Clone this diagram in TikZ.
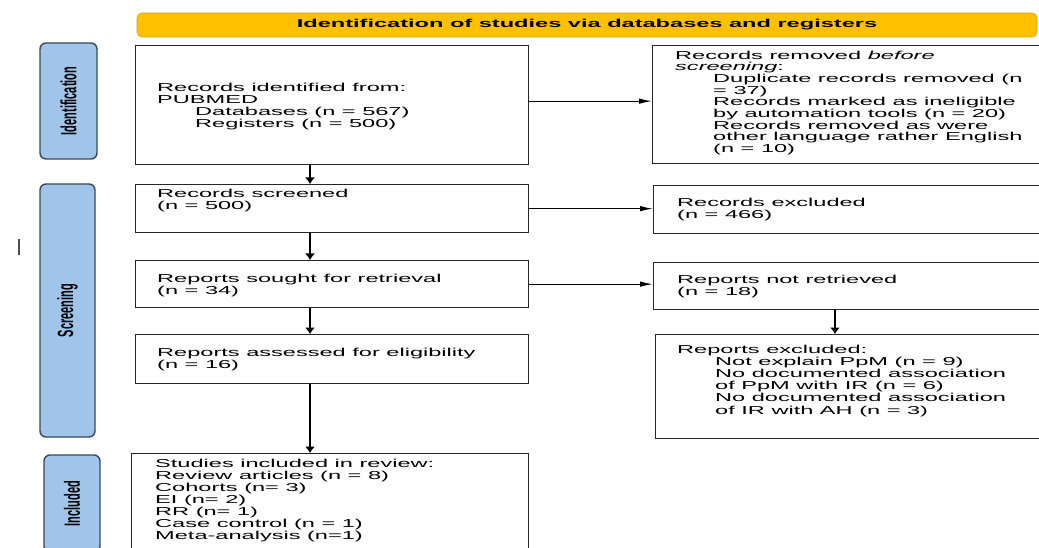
\documentclass[tikz,border=0pt]{standalone}
\usepackage{fontspec}
\setmainfont{Liberation Sans}[FakeStretch=2.05]
\newfontfamily\sidefont{Liberation Sans}
\usetikzlibrary{arrows.meta}
\definecolor{gold}{RGB}{255,192,0}
\definecolor{sideblue}{RGB}{160,197,232}
\definecolor{sideline}{RGB}{55,72,95}
\begin{document}
\begin{tikzpicture}[x=1pt,y=-1pt,
  box/.style={draw=black!85, line width=1.3pt, anchor=north west, inner sep=0pt},
  txt/.style={anchor=north west, inner sep=0pt, align=left, font=\fontsize{11.5}{12}\selectfont},
  side/.style={draw=sideline, fill=sideblue, line width=1.4pt, rounded corners=6pt, rotate=90, inner sep=0pt, font=\sidefont\bfseries\fontsize{11}{12}\selectfont},
  harr/.style={-{Latex[length=13pt,width=5.5pt]}, line width=1.2pt},
  varr/.style={-{Latex[length=6.5pt,width=10pt]}, line width=1.2pt}]
\path[use as bounding box, fill=white] (0,0) rectangle (1039,548);

% banner
\node[fill=gold, draw=gold!85!black, line width=0.6pt, rounded corners=5pt, minimum width=900pt, minimum height=24pt, inner sep=0pt, font=\bfseries\fontsize{11.5}{12}\selectfont] (ban) at (587,25) {Identification of studies via databases and registers};

% side labels
\node[side, minimum width=116pt, minimum height=57pt] (s1) at (68.5,101) {\scalebox{1}[2]{Identification}};
\node[side, minimum width=253pt, minimum height=55pt] (s2) at (67.5,310.5) {\scalebox{1}[2]{Screening}};
\node[side, minimum width=97pt, minimum height=56pt] (s3) at (72,503.5) {\scalebox{1}[2]{Included}};

% stray mark
\draw[line width=2.5pt, black!70] (19,239) -- (19,255);

% left boxes
\node[box, minimum width=393pt, minimum height=119pt] (b1) at (135,45) {};
\node[box, minimum width=393pt, minimum height=48pt] (b2) at (135,184) {};
\node[box, minimum width=393pt, minimum height=47pt] (b3) at (135,260) {};
\node[box, minimum width=393pt, minimum height=49pt] (b4) at (135,334) {};
\node[box, minimum width=397pt, minimum height=100pt] (b5) at (131,453) {};

% right boxes
\node[box, minimum width=400pt, minimum height=118pt] (r1) at (652,45) {};
\node[box, minimum width=400pt, minimum height=48pt] (r2) at (653,185) {};
\node[box, minimum width=400pt, minimum height=47pt] (r3) at (653,262) {};
\node[box, minimum width=400pt, minimum height=104pt] (r4) at (655,334) {};

% texts
\node[txt] (t1) at (157,82.5) {Records identified from:\\PUBMED\\\hspace*{38pt}Databases (n = 567)\\\hspace*{38pt}Registers (n = 500)};
\node[txt] (t2) at (157,188.5) {Records screened\\(n = 500)};
\node[txt] (t3) at (157,273.5) {Reports sought for retrieval\\(n = 34)};
\node[txt] (t4) at (157,347.5) {Reports assessed for eligibility\\(n = 16)};
\node[txt] (t5) at (155,458.5) {Studies included in review:\\Review articles (n = 8)\\Cohorts (n= 3)\\EI (n= 2)\\RR (n= 1)\\Case control (n = 1)\\Meta-analysis (n=1)};

\node[txt, font=\fontsize{11.5}{11.7}\selectfont] (u1) at (675,50.5) {Records removed \textit{before}\\\textit{screening}:\\\hspace*{38pt}Duplicate records removed (n\\\hspace*{38pt}= 37)\\\hspace*{38pt}Records marked as ineligible\\\hspace*{38pt}by automation tools (n = 20)\\\hspace*{38pt}Records removed as were\\\hspace*{38pt}other language rather English\\\hspace*{38pt}(n = 10)};
\node[txt] (u2) at (677,197.5) {Records excluded\\(n = 466)};
\node[txt] (u3) at (677,274.5) {Reports not retrieved\\(n = 18)};
\node[txt, font=\fontsize{11.5}{12.2}\selectfont] (u4) at (677,344.5) {Reports excluded:\\\hspace*{38pt}Not explain PpM (n = 9)\\\hspace*{38pt}No documented association\\\hspace*{38pt}of PpM with IR (n = 6)\\\hspace*{38pt}No documented association\\\hspace*{38pt}of IR with AH (n = 3)};

% arrows
\coordinate (ax) at (310,0);
\coordinate (rx) at (835,0);
\draw[varr] (b1.south -| ax) -- (b2.north -| ax);
\draw[varr] (b2.south -| ax) -- (b3.north -| ax);
\draw[varr] (b3.south -| ax) -- (b4.north -| ax);
\draw[varr] (b4.south -| ax) -- (b5.north -| ax);
\draw[varr] (r3.south -| rx) -- (r4.north -| rx);
\draw[harr] ([yshift=4pt]b1.east) -- ([yshift=4pt]b1.east -| r1.west);
\draw[harr] (b2.east) -- (b2.east -| r2.west);
\draw[harr] (b3.east) -- (b3.east -| r3.west);
\end{tikzpicture}
\end{document}
